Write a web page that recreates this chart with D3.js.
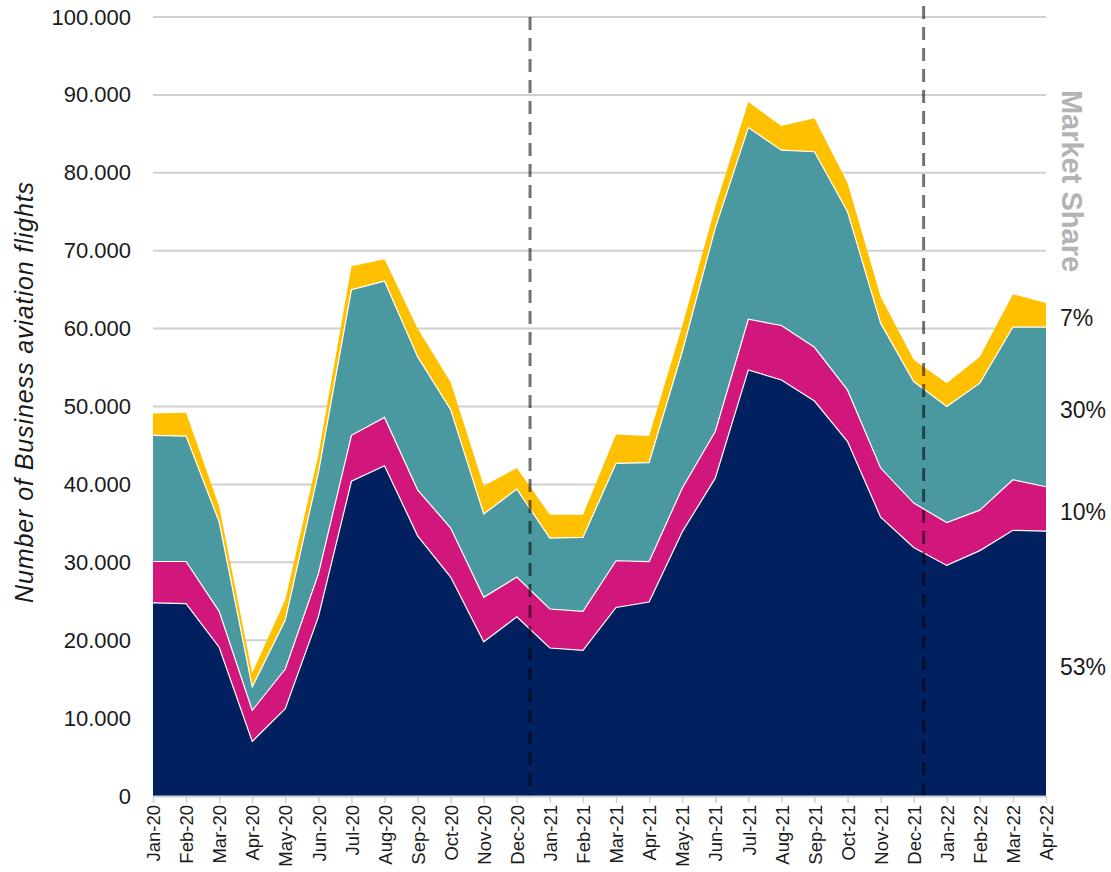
<!DOCTYPE html>
<html>
<head>
<meta charset="utf-8">
<script src="https://cdn.jsdelivr.net/npm/d3@7"></script>
<style>
    body {
        margin: 0;
        background: #fff;
    }
    #chart-area text {
        font-family: "Liberation Sans", Arial, sans-serif;
    }
</style>
</head>
<body>
<div id="chart-area"></div>
<script>
//Data
const months = [
    "Jan-20", "Feb-20", "Mar-20", "Apr-20", "May-20", "Jun-20", "Jul-20",
    "Aug-20", "Sep-20", "Oct-20", "Nov-20", "Dec-20", "Jan-21", "Feb-21",
    "Mar-21", "Apr-21", "May-21", "Jun-21", "Jul-21", "Aug-21", "Sep-21",
    "Oct-21", "Nov-21", "Dec-21", "Jan-22", "Feb-22", "Mar-22", "Apr-22",
];
const navySeries = [
    24800, 24700, 19100, 7000, 11200, 23000, 40400, 42400, 33400, 28100,
    19800, 23000, 19000, 18700, 24200, 24900, 33900, 40800, 54700, 53400,
    50700, 45500, 35800, 31900, 29600, 31500, 34100, 34000,
];
const magentaSeries = [
    5300, 5400, 4600, 4000, 5100, 5500, 5900, 6200, 5900, 6300, 5700, 5100,
    5000, 5000, 6000, 5200, 5600, 6000, 6500, 7000, 6900, 6600, 6300, 5700,
    5500, 5200, 6500, 5700,
];
const tealSeries = [
    16200, 16100, 11500, 3000, 6300, 13000, 18700, 17500, 17100, 15200,
    10700, 11300, 9100, 9500, 12500, 12700, 17500, 26100, 24600, 22500,
    25100, 22900, 18600, 15600, 14900, 16300, 19600, 20500,
];
const yellowSeries = [
    2800, 3000, 2000, 1800, 2600, 2300, 3000, 2800, 3600, 3500, 3600, 2700,
    3000, 2900, 3700, 3400, 3300, 2700, 3300, 3100, 4300, 3700, 3400, 2800,
    3000, 3400, 4200, 3100,
];
const shareLabels = ["53%", "10%", "30%", "7%"];
const yTicks = [0, 10000, 20000, 30000, 40000, 50000, 60000, 70000, 80000, 90000, 100000];
//Month index of the two dashed dividers
const dividers = [11.4, 23.3];

const margin = {
    top: 17,
    right: 65,
    bottom: 76,
    left: 153,
};

const width = 1111 - margin.right - margin.left;
const height = 872 - margin.top - margin.bottom;

const keys = ["navy", "magenta", "teal", "yellow"];
const colors = {
    navy: "#002060",
    magenta: "#d1177b",
    teal: "#4a98a0",
    yellow: "#ffc000",
};

const rows = months.map((m, i) => ({
    month: i,
    navy: navySeries[i],
    magenta: magentaSeries[i],
    teal: tealSeries[i],
    yellow: yellowSeries[i],
}));

const stacked = d3.stack().keys(keys)(rows);

const svg = d3
    .select("#chart-area")
    .append("svg")
    .attr("width", width + margin.right + margin.left)
    .attr("height", height + margin.top + margin.bottom);

const g = svg
    .append("g")
    .attr("transform", `translate(${margin.left}, ${margin.top})`);

//Scales
const xScale = d3.scaleLinear().domain([0, months.length - 1]).range([0, width]);
const yScale = d3.scaleLinear().domain([0, 100000]).range([height, 0]);

const locale = d3.formatLocale({
    decimal: ",",
    thousands: ".",
    grouping: [3],
    currency: ["", "€"],
});
const numFormat = locale.format(",.0f");

//Gridlines
g.append("g")
    .attr("class", "grid")
    .selectAll("line")
    .data(yTicks.slice(1))
    .enter()
    .append("line")
    .attr("x1", 0)
    .attr("x2", width)
    .attr("y1", (d) => yScale(d))
    .attr("y2", (d) => yScale(d))
    .attr("stroke", "#d0d0d0")
    .attr("stroke-width", 2);

//Areas
const area = d3
    .area()
    .x((d) => xScale(d.data.month))
    .y0((d) => yScale(d[0]))
    .y1((d) => yScale(d[1]));

g.selectAll(".layer")
    .data(stacked)
    .enter()
    .append("path")
    .attr("class", "layer")
    .attr("d", area)
    .attr("fill", (d) => colors[d.key]);

//White edges on top of each layer
const topLine = d3
    .line()
    .x((d) => xScale(d.data.month))
    .y((d) => yScale(d[1]));

g.selectAll(".edge")
    .data(stacked.slice(0, 3))
    .enter()
    .append("path")
    .attr("class", "edge")
    .attr("d", topLine)
    .attr("fill", "none")
    .attr("stroke", "#fff")
    .attr("stroke-width", 1.2);

//Axes
const xAxisCall = d3
    .axisBottom(xScale)
    .tickValues(d3.range(months.length))
    .tickFormat((i) => months[i])
    .tickSize(7)
    .tickSizeOuter(0);

const xAxis = g
    .append("g")
    .attr("class", "x-axis")
    .attr("transform", `translate(0, ${height})`)
    .call(xAxisCall);
xAxis.select(".domain").attr("stroke", "#d0d0d0").attr("stroke-width", 2);
xAxis.selectAll(".tick line").attr("stroke", "#d0d0d0").attr("stroke-width", 1.5);
xAxis
    .selectAll("text")
    .attr("font-size", "18.5px")
    .attr("fill", "#1a1a1a")
    .attr("text-anchor", "end")
    .attr("transform", "rotate(-90)")
    .attr("x", -9)
    .attr("y", 0)
    .attr("dy", "0.36em");

const yAxisCall = d3
    .axisLeft(yScale)
    .tickValues(yTicks)
    .tickFormat(numFormat)
    .tickSize(0)
    .tickPadding(22);

const yAxis = g.append("g").attr("class", "y-axis").call(yAxisCall);
yAxis.select(".domain").remove();
yAxis.selectAll("text").attr("font-size", "22px").attr("fill", "#1a1a1a");

//Dashed dividers
g.selectAll(".divider")
    .data(dividers)
    .enter()
    .append("line")
    .attr("class", "divider")
    .attr("x1", (d) => xScale(d))
    .attr("x2", (d) => xScale(d))
    .attr("y1", (d, i) => (i === 0 ? 0 : -11))
    .attr("y2", height - 1)
    .attr("stroke", "rgba(0,0,0,0.55)")
    .attr("stroke-width", 3)
    .attr("stroke-dasharray", "13,8");

//Labels
svg.append("text")
    .attr("class", "y-label")
    .attr("font-size", "25px")
    .attr("font-style", "italic")
    .attr("letter-spacing", "0.9px")
    .attr("fill", "#1a1a1a")
    .attr("text-anchor", "middle")
    .attr("transform", "translate(33, 392) rotate(-90)")
    .text("Number of Business aviation flights");

svg.append("text")
    .attr("class", "share-title")
    .attr("font-size", "29px")
    .attr("font-weight", "bold")
    .attr("fill", "#b3b3b3")
    .attr("text-anchor", "middle")
    .attr("transform", "translate(1062, 181) rotate(90)")
    .text("Market Share");

//Share labels next to the last month
const last = months.length - 1;
g.selectAll(".share")
    .data(stacked)
    .enter()
    .append("text")
    .attr("class", "share")
    .attr("font-size", "23px")
    .attr("fill", "#1a1a1a")
    .attr("x", width + 14)
    .attr("y", (d) => yScale((d[last][0] + d[last][1]) / 2))
    .attr("dy", "0.5em")
    .text((d, i) => shareLabels[i]);
</script>
</body>
</html>
